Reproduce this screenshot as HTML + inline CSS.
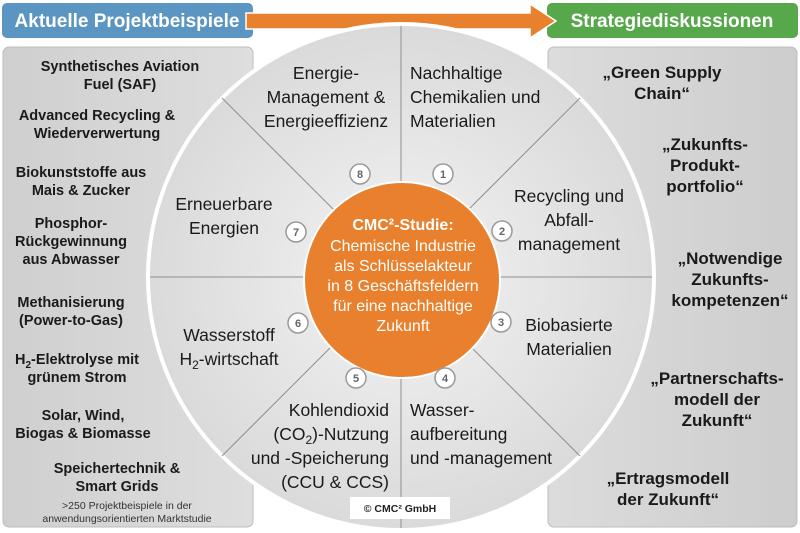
<!DOCTYPE html>
<html><head><meta charset="utf-8"><style>
html,body{margin:0;padding:0;background:#fff;}
svg{display:block;font-family:"Liberation Sans",Arial,sans-serif;}
</style></head><body>
<svg width="800" height="533" viewBox="0 0 800 533" xmlns="http://www.w3.org/2000/svg">
<defs>
<linearGradient id="pl" x1="0" y1="0" x2="1" y2="0"><stop offset="0" stop-color="#cfcfcf"/><stop offset="1" stop-color="#dedede"/></linearGradient>
<linearGradient id="pr" x1="0" y1="0" x2="1" y2="0"><stop offset="0" stop-color="#dcdcdc"/><stop offset="1" stop-color="#cdcdcd"/></linearGradient>
<radialGradient id="bc" cx="0.5" cy="0.5" r="0.5"><stop offset="0.3" stop-color="#ececec"/><stop offset="1" stop-color="#dadada"/></radialGradient>
</defs>
<rect x="2" y="3" width="251" height="35" rx="5" fill="#5b95c1"/>
<text x="127" y="27" text-anchor="middle" font-size="19" font-weight="bold" fill="#fff">Aktuelle Projektbeispiele</text>
<rect x="547" y="3" width="251" height="35" rx="5" fill="#56a84a"/>
<text x="672" y="27" text-anchor="middle" font-size="19" font-weight="bold" fill="#fff">Strategiediskussionen</text>
<polygon points="246,13 530,13 530,4 556,21 530,38 530,29 246,29" fill="#e8812e" stroke="#fff" stroke-width="1.5"/>
<rect x="3" y="47" width="250" height="480" rx="6" fill="url(#pl)" stroke="#bdbdbd"/>
<rect x="548" y="47" width="249" height="480" rx="6" fill="url(#pr)" stroke="#bdbdbd"/>
<circle cx="401" cy="277" r="253" fill="url(#bc)" stroke="#fff" stroke-width="4"/>
<g stroke="#8f8f8f" stroke-width="1">
<line x1="401" y1="26" x2="401" y2="528"/>
<line x1="150" y1="277" x2="652" y2="277"/>
<line x1="222" y1="98" x2="580" y2="456"/>
<line x1="580" y1="98" x2="222" y2="456"/>
</g>
<circle cx="402" cy="280" r="98" fill="#e8802d" stroke="#fff" stroke-width="2"/>
<g text-anchor="middle" fill="#fff" font-size="16">
<text x="403" y="230" font-weight="bold">CMC²-Studie:</text>
<text x="403" y="251">Chemische Industrie</text>
<text x="403" y="271">als Schlüsselakteur</text>
<text x="403" y="291">in 8 Geschäftsfeldern</text>
<text x="403" y="311">für eine nachhaltige</text>
<text x="403" y="331">Zukunft</text>
</g>
<g fill="#fff" stroke="#9a9a9a" stroke-width="1.5">
<circle cx="360" cy="174" r="10"/><circle cx="443" cy="174" r="10"/>
<circle cx="502" cy="231" r="10"/><circle cx="501" cy="322" r="10"/>
<circle cx="445" cy="378" r="10"/><circle cx="356" cy="378" r="10"/>
<circle cx="298" cy="323" r="10"/><circle cx="296" cy="232" r="10"/>
</g>
<g text-anchor="middle" font-size="11" font-weight="bold" fill="#666">
<text x="360" y="178">8</text><text x="443" y="178">1</text>
<text x="502" y="235">2</text><text x="501" y="326">3</text>
<text x="445" y="382">4</text><text x="356" y="382">5</text>
<text x="298" y="327">6</text><text x="296" y="236">7</text>
</g>
<g font-size="17.5" fill="#1a1a1a">
<text x="326" y="79" text-anchor="middle">Energie-</text>
<text x="326" y="103" text-anchor="middle">Management &amp;</text>
<text x="326" y="127" text-anchor="middle">Energieeffizienz</text>
<text x="410" y="79">Nachhaltige</text>
<text x="410" y="103">Chemikalien und</text>
<text x="410" y="127">Materialien</text>
<text x="569" y="202" text-anchor="middle">Recycling und</text>
<text x="569" y="226" text-anchor="middle">Abfall-</text>
<text x="569" y="250" text-anchor="middle">management</text>
<text x="569" y="331" text-anchor="middle">Biobasierte</text>
<text x="569" y="355" text-anchor="middle">Materialien</text>
<text x="410" y="416">Wasser-</text>
<text x="410" y="440">aufbereitung</text>
<text x="410" y="464">und -management</text>
<text x="389" y="416" text-anchor="end">Kohlendioxid</text>
<text x="389" y="440" text-anchor="end">(CO<tspan font-size="12" dy="4">2</tspan><tspan dy="-4">)-Nutzung</tspan></text>
<text x="389" y="464" text-anchor="end">und -Speicherung</text>
<text x="389" y="488" text-anchor="end">(CCU &amp; CCS)</text>
<text x="229" y="341" text-anchor="middle">Wasserstoff</text>
<text x="229" y="365" text-anchor="middle">H<tspan font-size="12" dy="4">2</tspan><tspan dy="-4">-wirtschaft</tspan></text>
<text x="224" y="210" text-anchor="middle">Erneuerbare</text>
<text x="224" y="234" text-anchor="middle">Energien</text>
</g>
<rect x="350" y="497" width="100" height="22" fill="#fff"/>
<text x="400" y="512" text-anchor="middle" font-size="10.5" font-weight="bold" fill="#222">© CMC² GmbH</text>
<g text-anchor="middle" font-size="14.5" font-weight="bold" fill="#1a1a1a">
<text x="120" y="71">Synthetisches Aviation</text>
<text x="120" y="89">Fuel (SAF)</text>
<text x="97" y="120">Advanced Recycling &amp;</text>
<text x="97" y="138">Wiederverwertung</text>
<text x="81" y="177">Biokunststoffe aus</text>
<text x="81" y="195">Mais &amp; Zucker</text>
<text x="71" y="228">Phosphor-</text>
<text x="71" y="246">Rückgewinnung</text>
<text x="71" y="264">aus Abwasser</text>
<text x="71" y="307">Methanisierung</text>
<text x="71" y="325">(Power-to-Gas)</text>
<text x="77" y="364">H<tspan font-size="10" dy="4">2</tspan><tspan dy="-4">-Elektrolyse mit</tspan></text>
<text x="77" y="382">grünem Strom</text>
<text x="83" y="420">Solar, Wind,</text>
<text x="83" y="438">Biogas &amp; Biomasse</text>
<text x="117" y="473">Speichertechnik &amp;</text>
<text x="117" y="491">Smart Grids</text>
</g>
<g text-anchor="middle" font-size="10.5" fill="#333">
<text x="127" y="509">&gt;250 Projektbeispiele in der</text>
<text x="127" y="522">anwendungsorientierten Marktstudie</text>
</g>
<g text-anchor="middle" font-size="17" font-weight="bold" fill="#1a1a1a">
<text x="662" y="78">„Green Supply</text>
<text x="662" y="99">Chain“</text>
<text x="705" y="150">„Zukunfts-</text>
<text x="705" y="171">Produkt-</text>
<text x="705" y="192">portfolio“</text>
<text x="730" y="264">„Notwendige</text>
<text x="730" y="285">Zukunfts-</text>
<text x="730" y="306">kompetenzen“</text>
<text x="717" y="384">„Partnerschafts-</text>
<text x="717" y="405">modell der</text>
<text x="717" y="426">Zukunft“</text>
<text x="668" y="484">„Ertragsmodell</text>
<text x="668" y="505">der Zukunft“</text>
</g>
</svg>
</body></html>
